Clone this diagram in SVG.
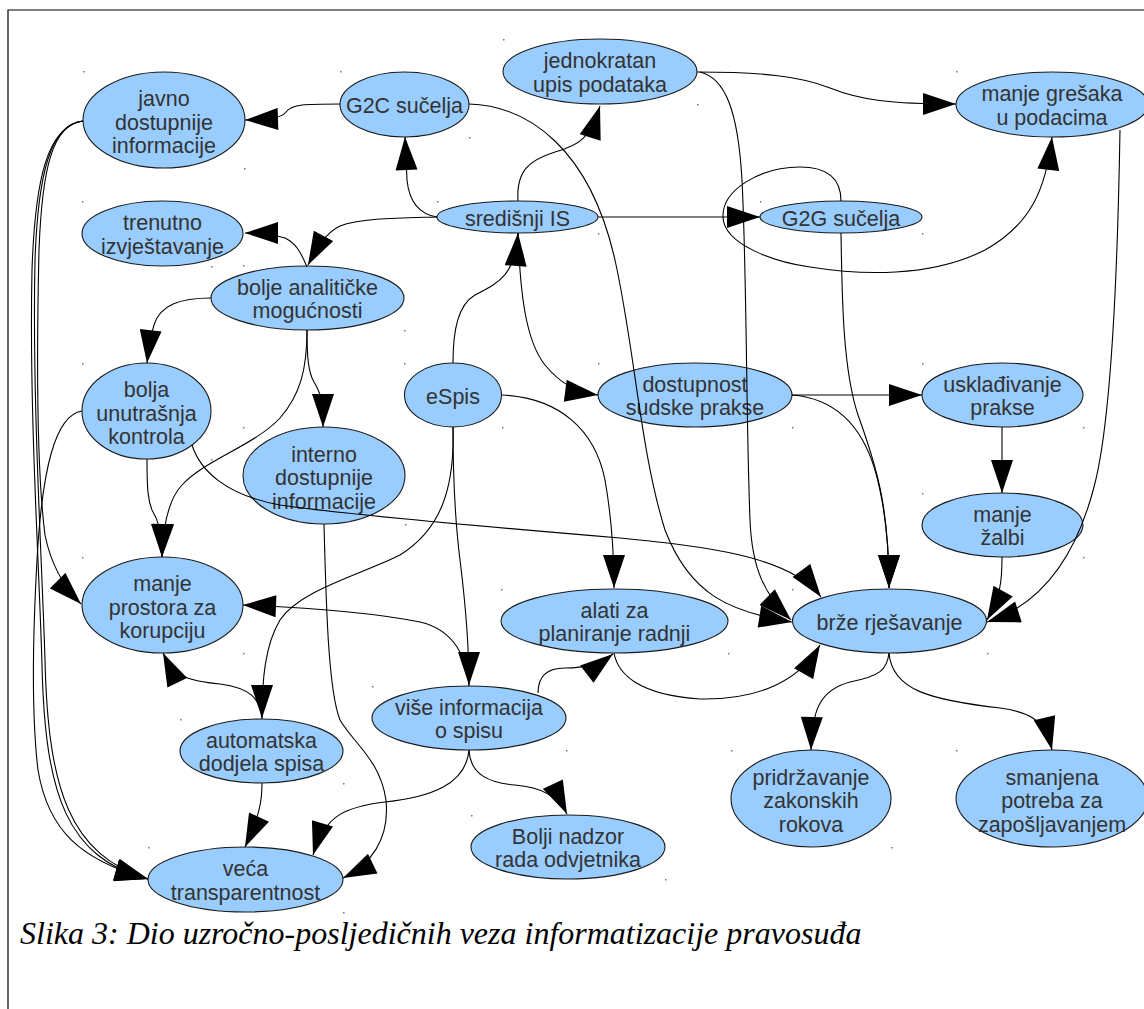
<svg xmlns="http://www.w3.org/2000/svg" width="1144" height="1009" viewBox="0 0 1144 1009">
  <defs>
    <marker id="arrow" markerUnits="userSpaceOnUse" markerWidth="34" markerHeight="22" viewBox="0 0 33 22" refX="33" refY="11" orient="auto">
      <path d="M0,0 L33,11 L0,22 Z" fill="#000"/>
    </marker>
  </defs>
  <style>
    .node ellipse { fill: #99ccff; stroke: #1a1a1a; stroke-width: 1.1; }
    .node text { font-family: "Liberation Sans", Arial, sans-serif; font-size: 21.5px; fill: #333333; text-anchor: middle; }
    .edges path { fill: none; stroke: #000; stroke-width: 1.1; marker-end: url(#arrow); }
    .frame { fill: none; stroke: #000; stroke-width: 1.2; }
    .dot { fill: #777; }
    .caption { font-family: "Liberation Serif", "Times New Roman", serif; font-style: italic; font-size: 32px; fill: #000; }
  </style>

  <rect width="1144" height="1009" fill="#fff"/>
  <path class="frame" d="M8,1009 V10 H1144"/>

  <!-- nodes -->
  <g id="javno" class="node">
    <ellipse cx="164" cy="120" rx="81" ry="48"/>
    <text x="164" y="106">javno</text>
    <text x="164" y="129.5">dostupnije</text>
    <text x="164" y="153">informacije</text>
  </g>
  <g id="g2c" class="node">
    <ellipse cx="404.5" cy="104.5" rx="64.5" ry="32.5"/>
    <text x="404.5" y="113">G2C sučelja</text>
  </g>
  <g id="jednokratan" class="node">
    <ellipse cx="600" cy="71.5" rx="97" ry="32.5"/>
    <text x="600" y="68">jednokratan</text>
    <text x="600" y="91.5">upis podataka</text>
  </g>
  <g id="gresaka" class="node">
    <ellipse cx="1052" cy="104.5" rx="96" ry="32.5"/>
    <text x="1052" y="101">manje grešaka</text>
    <text x="1052" y="124.5">u podacima</text>
  </g>
  <g id="trenutno" class="node">
    <ellipse cx="162.5" cy="233.5" rx="80.5" ry="32.5"/>
    <text x="162.5" y="230">trenutno</text>
    <text x="162.5" y="253.5">izvještavanje</text>
  </g>
  <g id="sredisnji" class="node">
    <ellipse cx="517.5" cy="217" rx="80.5" ry="16"/>
    <text x="517.5" y="225.5">središnji IS</text>
  </g>
  <g id="g2g" class="node">
    <ellipse cx="841" cy="217" rx="81" ry="16"/>
    <text x="841" y="225.5">G2G sučelja</text>
  </g>
  <g id="analiticke" class="node">
    <ellipse cx="307.5" cy="298" rx="96.5" ry="32"/>
    <text x="307.5" y="294.5">bolje analitičke</text>
    <text x="307.5" y="318">mogućnosti</text>
  </g>
  <g id="kontrola" class="node">
    <ellipse cx="146.5" cy="411" rx="64.5" ry="48"/>
    <text x="146.5" y="397">bolja</text>
    <text x="146.5" y="420.5">unutrašnja</text>
    <text x="146.5" y="444">kontrola</text>
  </g>
  <g id="interno" class="node">
    <ellipse cx="324" cy="475.5" rx="81" ry="48.5"/>
    <text x="324" y="461.5">interno</text>
    <text x="324" y="485">dostupnije</text>
    <text x="324" y="508.5">informacije</text>
  </g>
  <g id="korupcija" class="node">
    <ellipse cx="162.5" cy="605" rx="80.5" ry="48"/>
    <text x="162.5" y="591">manje</text>
    <text x="162.5" y="614.5">prostora za</text>
    <text x="162.5" y="638">korupciju</text>
  </g>
  <g id="espis" class="node">
    <ellipse cx="453" cy="395" rx="48.5" ry="32"/>
    <text x="453" y="403.5">eSpis</text>
  </g>
  <g id="dostupnost" class="node">
    <ellipse cx="695" cy="395" rx="97" ry="32"/>
    <text x="695" y="391.5">dostupnost</text>
    <text x="695" y="415">sudske prakse</text>
  </g>
  <g id="uskladivanje" class="node">
    <ellipse cx="1002.5" cy="395" rx="80.5" ry="32"/>
    <text x="1002.5" y="391.5">usklađivanje</text>
    <text x="1002.5" y="415">prakse</text>
  </g>
  <g id="zalbi" class="node">
    <ellipse cx="1002.5" cy="525" rx="80.5" ry="32"/>
    <text x="1002.5" y="521.5">manje</text>
    <text x="1002.5" y="545">žalbi</text>
  </g>
  <g id="alati" class="node">
    <ellipse cx="614.5" cy="621" rx="113.5" ry="32"/>
    <text x="614.5" y="617.5">alati za</text>
    <text x="614.5" y="641">planiranje radnji</text>
  </g>
  <g id="brze" class="node">
    <ellipse cx="889.5" cy="621" rx="97" ry="32"/>
    <text x="889.5" y="629.5">brže rješavanje</text>
  </g>
  <g id="vise" class="node">
    <ellipse cx="469" cy="718" rx="97" ry="32"/>
    <text x="469" y="714.5">više informacija</text>
    <text x="469" y="738">o spisu</text>
  </g>
  <g id="automatska" class="node">
    <ellipse cx="261.5" cy="751" rx="81.5" ry="32"/>
    <text x="261.5" y="747.5">automatska</text>
    <text x="261.5" y="771">dodjela spisa</text>
  </g>
  <g id="nadzor" class="node">
    <ellipse cx="568" cy="847" rx="97" ry="32"/>
    <text x="568" y="843.5">Bolji nadzor</text>
    <text x="568" y="867">rada odvjetnika</text>
  </g>
  <g id="pridrzavanje" class="node">
    <ellipse cx="811" cy="798.5" rx="80" ry="48.5"/>
    <text x="811" y="784.5">pridržavanje</text>
    <text x="811" y="808">zakonskih</text>
    <text x="811" y="831.5">rokova</text>
  </g>
  <g id="smanjena" class="node">
    <ellipse cx="1052" cy="798.5" rx="96" ry="48.5"/>
    <text x="1052" y="784.5">smanjena</text>
    <text x="1052" y="808">potreba za</text>
    <text x="1052" y="831.5">zapošljavanjem</text>
  </g>
  <g id="veca" class="node">
    <ellipse cx="245.5" cy="879.5" rx="97.5" ry="32.5"/>
    <text x="245.5" y="876">veća</text>
    <text x="245.5" y="899.5">transparentnost</text>
  </g>

  <!-- connectors -->
  <g id="connectors" class="edges">
    <path d="M340,104 C305,104 292,104 286,112 C282,117 275,119 245,120"/>
    <path d="M437,217 C418,214 409,200 407,180 L405,137"/>
    <path d="M437,217 C400,218 360,218 340,226 C325,233 316,250 308,265"/>
    <path d="M307,267 C300,250 295,243 285,238 C275,235 260,233 245,233"/>
    <path d="M211,298 C180,298 160,305 154,325 C151,335 149,345 147,363"/>
    <path d="M307,330 C307,355 308,372 314,382 C320,392 323,398 323,427"/>
    <path d="M307,330 C307,370 300,395 280,418 C255,445 205,460 182,485 C168,500 163,525 162,557"/>
    <path d="M147,459 C147,490 148,500 152,510 C158,520 162,530 162,557"/>
    <path d="M83,121 C52,124 42,170 39,250 C36,380 38,480 45,535 C50,560 62,585 81,604"/>
    <path d="M83,121 C50,124 38,175 35,260 C32,400 42,560 45,660 C48,790 70,855 148,879"/>
    <path d="M83,121 C47,126 35,180 32,270 C29,410 39,560 42,665 C45,795 67,858 148,879"/>
    <path d="M82,411 C55,415 42,470 37,560 C32,650 32,720 38,770 C48,830 80,860 148,879"/>
    <path d="M518,201 C516,170 530,160 555,152 C580,145 590,138 600,106"/>
    <path d="M598,217 L760,217"/>
    <path d="M841,201 C841,180 830,167 800,167 C760,167 722,190 723,217 C724,245 775,262 810,267 C860,275 930,278 985,250 C1030,225 1046,190 1052,137"/>
    <path d="M697,72 C760,72 800,76 830,88 C860,100 890,104 956,104"/>
    <path d="M700,72 C725,78 738,110 742,180 C747,280 746,420 750,520 C752,570 765,595 791,620"/>
    <path d="M469,104 C530,106 590,150 615,260 C635,350 640,450 665,530 C690,595 730,612 792,622"/>
    <path d="M841,233 C842,300 843,370 858,415 C878,470 889,510 889,588"/>
    <path d="M792,395 C830,398 860,420 875,470 C885,505 889,540 889,588"/>
    <path d="M792,395 L922,395"/>
    <path d="M1002,427 L1002,493"/>
    <path d="M1002,557 C1002,580 1001,595 987,620"/>
    <path d="M1120,130 C1118,250 1112,420 1094,487 C1075,560 1040,605 987,622"/>
    <path d="M453,363 C453,330 458,305 475,295 C500,282 515,275 518,233"/>
    <path d="M518,233 C520,290 525,340 545,365 C560,383 575,392 598,395"/>
    <path d="M502,395 C560,398 595,430 605,480 C612,520 614,550 614,588"/>
    <path d="M453,427 C453,480 455,520 460,560 C465,600 469,640 469,685"/>
    <path d="M453,427 C455,490 440,530 400,555 C360,575 300,590 280,620 C265,645 262,680 262,718"/>
    <path d="M262,719 C260,698 250,688 220,684 C190,681 175,678 163,653"/>
    <path d="M469,686 C468,660 455,630 420,622 C380,614 320,608 243,605"/>
    <path d="M538,693 C538,678 545,668 565,668 C585,668 600,664 613,654"/>
    <path d="M614,653 C618,675 640,695 700,699 C760,700 800,680 820,645"/>
    <path d="M469,750 C470,775 490,783 515,785 C540,787 558,795 567,814"/>
    <path d="M469,750 C466,785 430,797 385,802 C345,807 325,815 313,855"/>
    <path d="M324,524 C326,600 328,690 340,720 C355,745 380,760 386,800 C390,840 370,865 343,878"/>
    <path d="M192,445 C200,470 225,495 280,505 C350,515 500,528 620,538 C700,546 790,555 821,597"/>
    <path d="M262,783 C262,800 260,815 245,847"/>
    <path d="M889,653 C887,670 880,676 850,682 C820,690 812,710 811,750"/>
    <path d="M889,653 C892,690 930,700 1000,708 C1030,712 1045,720 1052,750"/>
  </g>

  <!-- frame corner handles -->
  <g id="handles" class="dot">
    <rect x="83" y="71" width="1.5" height="1.5"/><rect x="244" y="168" width="1.5" height="1.5"/>
    <rect x="340" y="71" width="1.5" height="1.5"/><rect x="469" y="137" width="1.5" height="1.5"/>
    <rect x="503" y="39" width="1.5" height="1.5"/><rect x="697" y="104" width="1.5" height="1.5"/>
    <rect x="956" y="71" width="1.5" height="1.5"/>
    <rect x="82" y="201" width="1.5" height="1.5"/><rect x="243" y="265" width="1.5" height="1.5"/>
    <rect x="437" y="201" width="1.5" height="1.5"/><rect x="598" y="233" width="1.5" height="1.5"/>
    <rect x="760" y="201" width="1.5" height="1.5"/><rect x="922" y="233" width="1.5" height="1.5"/>
    <rect x="211" y="266" width="1.5" height="1.5"/><rect x="404" y="330" width="1.5" height="1.5"/>
    <rect x="82" y="363" width="1.5" height="1.5"/><rect x="211" y="459" width="1.5" height="1.5"/>
    <rect x="243" y="427" width="1.5" height="1.5"/><rect x="405" y="524" width="1.5" height="1.5"/>
    <rect x="82" y="557" width="1.5" height="1.5"/><rect x="243" y="653" width="1.5" height="1.5"/>
    <rect x="404" y="363" width="1.5" height="1.5"/><rect x="502" y="427" width="1.5" height="1.5"/>
    <rect x="598" y="363" width="1.5" height="1.5"/><rect x="792" y="427" width="1.5" height="1.5"/>
    <rect x="922" y="363" width="1.5" height="1.5"/><rect x="1083" y="427" width="1.5" height="1.5"/>
    <rect x="922" y="493" width="1.5" height="1.5"/><rect x="1083" y="557" width="1.5" height="1.5"/>
    <rect x="501" y="589" width="1.5" height="1.5"/><rect x="728" y="653" width="1.5" height="1.5"/>
    <rect x="792" y="589" width="1.5" height="1.5"/><rect x="987" y="653" width="1.5" height="1.5"/>
    <rect x="372" y="686" width="1.5" height="1.5"/><rect x="566" y="750" width="1.5" height="1.5"/>
    <rect x="180" y="719" width="1.5" height="1.5"/><rect x="343" y="783" width="1.5" height="1.5"/>
    <rect x="471" y="815" width="1.5" height="1.5"/><rect x="665" y="879" width="1.5" height="1.5"/>
    <rect x="731" y="750" width="1.5" height="1.5"/><rect x="891" y="847" width="1.5" height="1.5"/>
    <rect x="956" y="750" width="1.5" height="1.5"/>
    <rect x="148" y="847" width="1.5" height="1.5"/><rect x="343" y="912" width="1.5" height="1.5"/>
  </g>

  <text class="caption" x="20" y="944">Slika 3: Dio uzročno-posljedičnih veza informatizacije pravosuđa</text>
</svg>
